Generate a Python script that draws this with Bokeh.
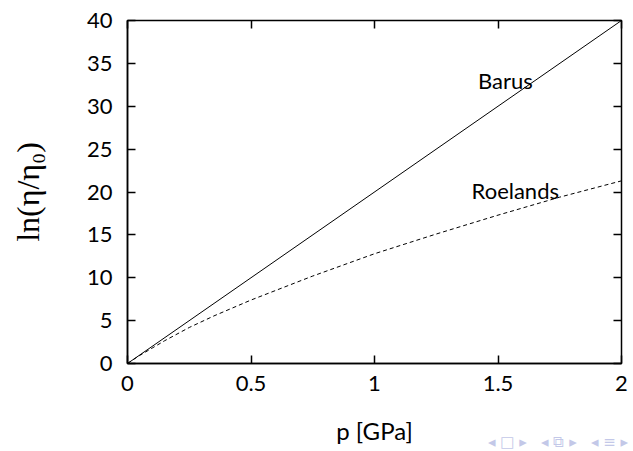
from bokeh.plotting import figure
from bokeh.layouts import column
from bokeh.models import LinearAxis, Label, FixedTicker, Range1d, Div
from bokeh.embed import file_html
from bokeh.resources import INLINE

# Pressure-viscosity models
pressure_gpa = [0, 2]
barus = [0, 40]

roelands_p = [0, 0.02, 0.05, 0.1, 0.15, 0.25, 0.35, 0.5, 0.75, 1.0, 1.25, 1.5, 1.75, 2.0]
roelands = [0, 0.39, 0.95, 1.8, 2.65, 4.2, 5.55, 7.4, 10.2, 12.8, 15.1, 17.3, 19.4, 21.3]

x_ticks = [0, 0.5, 1, 1.5, 2]
x_tick_labels = {0: "0", 0.5: "0.5", 1: "1", 1.5: "1.5", 2: "2"}
y_ticks = [0, 5, 10, 15, 20, 25, 30, 35, 40]

SANS = "Lato"

p = figure(width=633, height=451, output_backend="svg", toolbar_location=None,
           x_range=Range1d(0, 2), y_range=Range1d(0, 40),
           min_border_left=127, min_border_right=12, min_border_top=20, min_border_bottom=88,
           x_axis_label="p [GPa]", y_axis_label="ln(η/η₀)")
p.background_fill_color = "white"
p.border_fill_color = "white"
p.grid.visible = False
p.outline_line_color = "black"
p.outline_line_width = 1.5

for ax in p.xaxis + p.yaxis:
    ax.major_tick_in = 8
    ax.major_tick_out = 0
    ax.minor_tick_line_color = None
    ax.axis_line_width = 1.5
    ax.major_tick_line_width = 1.5
    ax.major_label_text_font = SANS
    ax.major_label_text_font_size = "22px"
    ax.major_label_text_color = "black"
    ax.axis_label_text_font_style = "normal"
    ax.axis_label_text_color = "black"

p.xaxis.ticker = FixedTicker(ticks=x_ticks)
p.xaxis.major_label_overrides = x_tick_labels
p.xaxis.major_label_standoff = 12
p.xaxis.axis_label_standoff = 22
p.xaxis.axis_label_text_font = SANS
p.xaxis.axis_label_text_font_size = "24px"

p.yaxis.ticker = FixedTicker(ticks=y_ticks)
p.yaxis.major_label_standoff = 15
p.yaxis.axis_label_standoff = 38
p.yaxis.axis_label_text_font = "Liberation Serif"
p.yaxis.axis_label_text_font_size = "32px"

# mirrored ticks on top and right
top = LinearAxis(ticker=FixedTicker(ticks=x_ticks))
right = LinearAxis(ticker=FixedTicker(ticks=y_ticks))
for ax in (top, right):
    ax.major_tick_in = 8
    ax.major_tick_out = 0
    ax.major_tick_line_width = 1.5
    ax.minor_tick_line_color = None
    ax.axis_line_color = None
    ax.major_label_text_font_size = "0px"
    ax.major_label_text_color = None
    ax.major_label_standoff = 0
p.add_layout(top, "above")
p.add_layout(right, "right")

p.line(pressure_gpa, barus, line_color="black", line_width=1)
p.line(roelands_p, roelands, line_color="black", line_width=1, line_dash="4 3")

p.add_layout(Label(x=1.53, y=33, text="Barus", text_font=SANS, text_font_size="22px",
                   text_align="center", text_baseline="middle", text_color="black"))
p.add_layout(Label(x=1.57, y=20.2, text="Roelands", text_font=SANS, text_font_size="22px",
                   text_align="center", text_baseline="middle", text_color="black"))

# navigation symbols tucked into the lower right corner
nav = Div(text="◂&nbsp;□&nbsp;▸&nbsp;&nbsp;&nbsp;◂&nbsp;⧉&nbsp;▸&nbsp;&nbsp;&nbsp;◂&nbsp;≡&nbsp;▸",
          width=145, height=18, margin=(-18, 0, 0, 488),
          styles={"color": "#c3c8e8", "font-family": "DejaVu Sans", "font-size": "15px",
                  "white-space": "nowrap", "line-height": "18px"})

layout = column(p, nav, spacing=0)
open("out.html", "w").write(file_html(layout, INLINE))
